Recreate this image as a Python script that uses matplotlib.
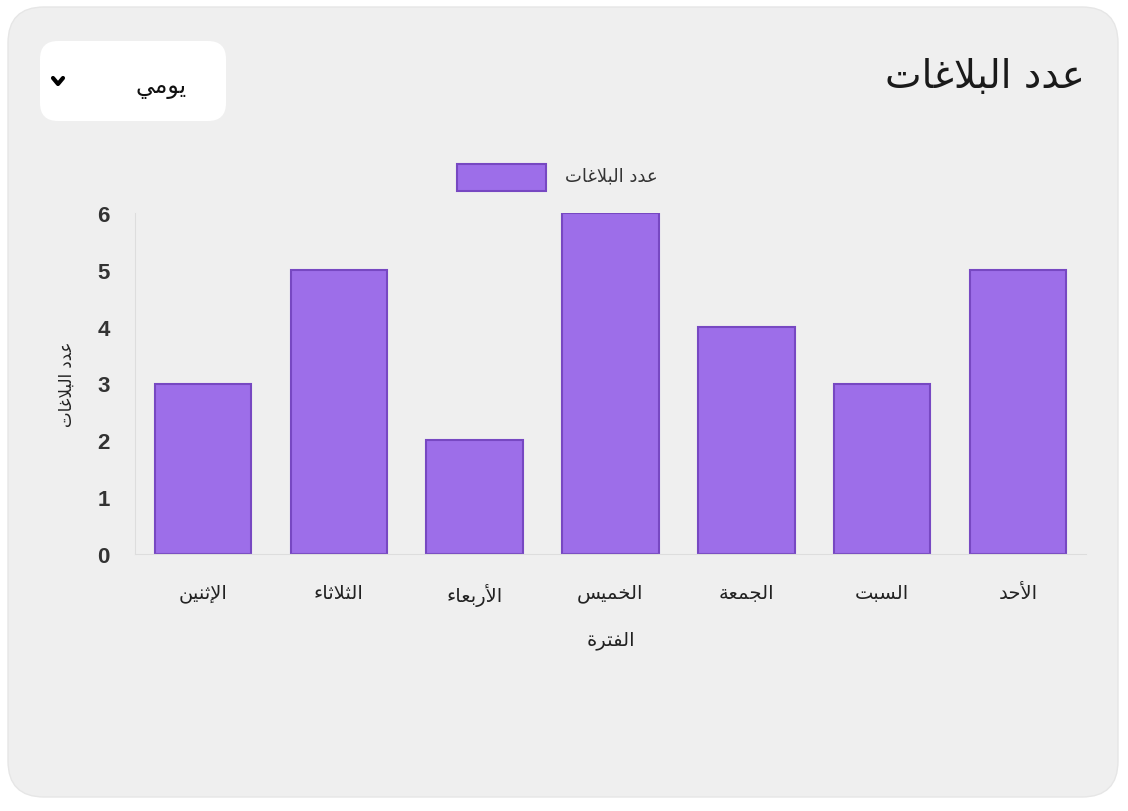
import matplotlib
matplotlib.use("Agg")
import matplotlib.pyplot as plt
from matplotlib.patches import FancyBboxPatch

days = ["الإثنين", "الثلاثاء", "الأربعاء", "الخميس", "الجمعة", "السبت", "الأحد"]
counts = [3, 5, 2, 6, 4, 3, 5]
title = "عدد البلاغات"
series_name = "عدد البلاغات"
x_title = "الفترة"
y_title = "عدد البلاغات"
period = "يومي"

# matplotlib has no arabic shaping, so map letters to presentation forms by hand
# letter: (isolated, final, initial, medial) ; None = does not join forward
FORMS = {
    "ء": (0xFE80, None, None, None),
    "ا": (0xFE8D, 0xFE8E, None, None),
    "أ": (0xFE83, 0xFE84, None, None),
    "إ": (0xFE87, 0xFE88, None, None),
    "ب": (0xFE8F, 0xFE90, 0xFE91, 0xFE92),
    "ة": (0xFE93, 0xFE94, None, None),
    "ت": (0xFE95, 0xFE96, 0xFE97, 0xFE98),
    "ث": (0xFE99, 0xFE9A, 0xFE9B, 0xFE9C),
    "ج": (0xFE9D, 0xFE9E, 0xFE9F, 0xFEA0),
    "ح": (0xFEA1, 0xFEA2, 0xFEA3, 0xFEA4),
    "خ": (0xFEA5, 0xFEA6, 0xFEA7, 0xFEA8),
    "د": (0xFEA9, 0xFEAA, None, None),
    "ر": (0xFEAD, 0xFEAE, None, None),
    "س": (0xFEB1, 0xFEB2, 0xFEB3, 0xFEB4),
    "ع": (0xFEC9, 0xFECA, 0xFECB, 0xFECC),
    "غ": (0xFECD, 0xFECE, 0xFECF, 0xFED0),
    "ف": (0xFED1, 0xFED2, 0xFED3, 0xFED4),
    "ل": (0xFEDD, 0xFEDE, 0xFEDF, 0xFEE0),
    "م": (0xFEE1, 0xFEE2, 0xFEE3, 0xFEE4),
    "ن": (0xFEE5, 0xFEE6, 0xFEE7, 0xFEE8),
    "و": (0xFEED, 0xFEEE, None, None),
    "ي": (0xFEF1, 0xFEF2, 0xFEF3, 0xFEF4),
}
LAM_ALEF = {"ا": (0xFEFB, 0xFEFC), "أ": (0xFEF7, 0xFEF8), "إ": (0xFEF9, 0xFEFA)}


def joins_forward(ch):
    return ch in FORMS and FORMS[ch][2] is not None


def joins_back(ch):
    return ch in FORMS and FORMS[ch][1] is not None


def shape(text):
    out = []
    i = 0
    n = len(text)
    while i < n:
        ch = text[i]
        prev = text[i - 1] if i > 0 else ""
        linked = prev != "" and joins_forward(prev) and joins_back(ch)
        if ch == "ل" and i + 1 < n and text[i + 1] in LAM_ALEF:
            iso, fin = LAM_ALEF[text[i + 1]]
            out.append(chr(fin if linked else iso))
            i += 2
            continue
        if ch not in FORMS:
            out.append(ch)
            i += 1
            continue
        nxt = text[i + 1] if i + 1 < n else ""
        fwd = joins_forward(ch) and nxt != "" and joins_back(nxt)
        iso, fin, ini, med = FORMS[ch]
        if linked and fwd:
            code = med
        elif linked:
            code = fin
        elif fwd:
            code = ini
        else:
            code = iso
        out.append(chr(code))
        i += 1
    return "".join(out)[::-1]


plt.rcParams["font.family"] = ["DejaVu Sans"]

W, H = 1128, 812
fig = plt.figure(figsize=(W / 100, H / 100), dpi=100)
fig.patch.set_facecolor("white")

bg = fig.add_axes([0, 0, 1, 1])
bg.set_xlim(0, W)
bg.set_ylim(H, 0)
bg.axis("off")

card = FancyBboxPatch((8, 8), 1110, 790, boxstyle="round,pad=0,rounding_size=36",
                      fc="#efefef", ec="#e6e6e6", lw=1)
bg.add_patch(card)
drop = FancyBboxPatch((40, 42), 186, 80, boxstyle="round,pad=0,rounding_size=18",
                      fc="white", ec="none")
bg.add_patch(drop)
bg.text(1085, 77, shape(title), ha="right", va="center", fontsize=28, color="#1a1a1a")
bg.text(161, 87, shape(period), ha="center", va="center", fontsize=17, color="#111111")
bg.plot([53, 58, 63], [79, 85, 79], color="black", lw=3, solid_capstyle="round",
        solid_joinstyle="round")
bg.text(611, 176, shape(series_name), ha="center", va="center", fontsize=13, color="#333333")

ax = fig.add_axes([135 / W, (H - 555) / H, (1086 - 135) / W, (555 - 214) / H])
ax.set_facecolor("#efefef")
pos = range(len(days))
bars = ax.bar(pos, counts, width=0.71, color="#9d6ee9", edgecolor="#7748c2", linewidth=1.5,
              label=shape(series_name))
ax.set_xlim(-0.5, len(days) - 0.5)
ax.set_ylim(0, 6)
ax.set_yticks(range(0, 7))
ax.set_xticks(list(pos))
ax.set_xticklabels([shape(d) for d in days], fontsize=14, color="#222222")
for lab in ax.get_yticklabels():
    lab.set_fontsize(16)
    lab.set_fontweight("bold")
    lab.set_family(["Liberation Sans", "DejaVu Sans"])
    lab.set_color("#333333")
ax.tick_params(axis="both", length=0)
ax.tick_params(axis="x", pad=21)
ax.tick_params(axis="y", pad=18)
for s in ["top", "right"]:
    ax.spines[s].set_visible(False)
ax.spines["left"].set_color("#dddddd")
ax.spines["bottom"].set_color("#dddddd")
ax.set_xlabel(shape(x_title), fontsize=14, color="#222222", labelpad=17)
ax.set_ylabel(shape(y_title), fontsize=12, color="#222222", labelpad=16)

# legend swatch
bg.add_patch(plt.Rectangle((457, 165), 89, 27, fc="#9d6ee9", ec="#7748c2", lw=1.5))

fig.savefig("out.png", dpi=100, facecolor="white")
